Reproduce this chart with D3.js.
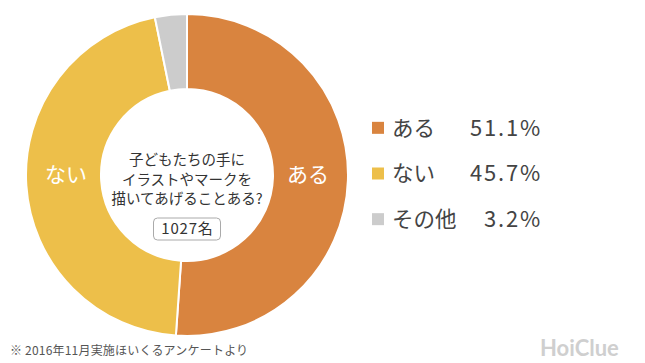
<!DOCTYPE html>
<html><head><meta charset="utf-8">
<script src="https://cdn.jsdelivr.net/npm/d3@7"></script>
<style>body{margin:0;background:#fff;font-family:"Noto Sans CJK JP","Noto Sans",sans-serif;}</style>
</head><body>
<svg id="c" width="645" height="363"></svg>
<script>
const categories = ["ある", "ない", "その他"];
const values = [51.1, 45.7, 3.2];
const colors = ["#D9843F", "#EDBF4A", "#CCCCCC"];
const centerLines = ["子どもたちの手に", "イラストやマークを", "描いてあげることある?"];
const countLabel = "1027名";
const note = "※ 2016年11月実施ほいくるアンケートより";

const svg = d3.select("#c");
const cx = 187, cy = 175, R = 161, r = 86;
const pie = d3.pie().sort(null).value(d => d.v);
const data = pie(categories.map((c, i) => ({c, v: values[i], col: colors[i]})));
const arc = d3.arc().innerRadius(r).outerRadius(R);
const g = svg.append("g").attr("transform", `translate(${cx},${cy})`);
g.selectAll("path").data(data).join("path")
  .attr("d", arc).attr("fill", d => d.data.col)
  .attr("stroke", "#fff").attr("stroke-width", 2);

// slice labels
const lab = [{i:0, x:121}, {i:1, x:-121}];
lab.forEach(l => {
  g.append("text").attr("x", l.x).attr("y", 0).attr("dy", "0.35em")
    .attr("text-anchor", "middle").attr("fill", "#fff")
    .attr("font-size", 21).text(categories[l.i]);
});

// center text
centerLines.forEach((t, i) => {
  g.append("text").attr("x", 0).attr("y", -15 + i * 19.5).attr("dy", "0.35em")
    .attr("text-anchor", "middle").attr("fill", "#333").attr("font-size", 14.5).text(t);
});
g.append("rect").attr("x", -33.5).attr("y", 43).attr("width", 67).attr("height", 22)
  .attr("rx", 4).attr("fill", "#fff").attr("stroke", "#aaa").attr("stroke-width", 1);
g.append("text").attr("x", 0.5).attr("y", 54).attr("dy", "0.36em").attr("text-anchor", "middle")
  .attr("fill", "#333").attr("font-size", 15).attr("letter-spacing", 0.8).text(countLabel);

// legend
const ly = d3.scaleBand().domain(categories).range([105, 242]);
const lg = svg.append("g");
categories.forEach((c, i) => {
  const y = ly(c) + ly.bandwidth() / 2;
  lg.append("rect").attr("x", 372).attr("y", y - 6).attr("width", 12).attr("height", 12).attr("fill", colors[i]);
  lg.append("text").attr("x", 392).attr("y", y).attr("dy", "0.36em").attr("fill", "#444")
    .attr("font-size", 21.5).text(c);
  lg.append("text").attr("x", 542).attr("y", y).attr("dy", "0.36em").attr("fill", "#444")
    .attr("text-anchor", "end").attr("font-size", 22).attr("letter-spacing", 1.8)
    .text(values[i].toFixed(1) + "%");
});

svg.append("text").attr("x", 10).attr("y", 355).attr("fill", "#555").attr("font-size", 12)
  .attr("letter-spacing", 0.2).text(note);
svg.append("text").attr("x", 540).attr("y", 356).attr("fill", "#cfcfcf").attr("font-size", 22)
  .attr("font-weight", "bold").attr("font-family", "Lato, sans-serif").text("HoiClue");
</script>
</body></html>
